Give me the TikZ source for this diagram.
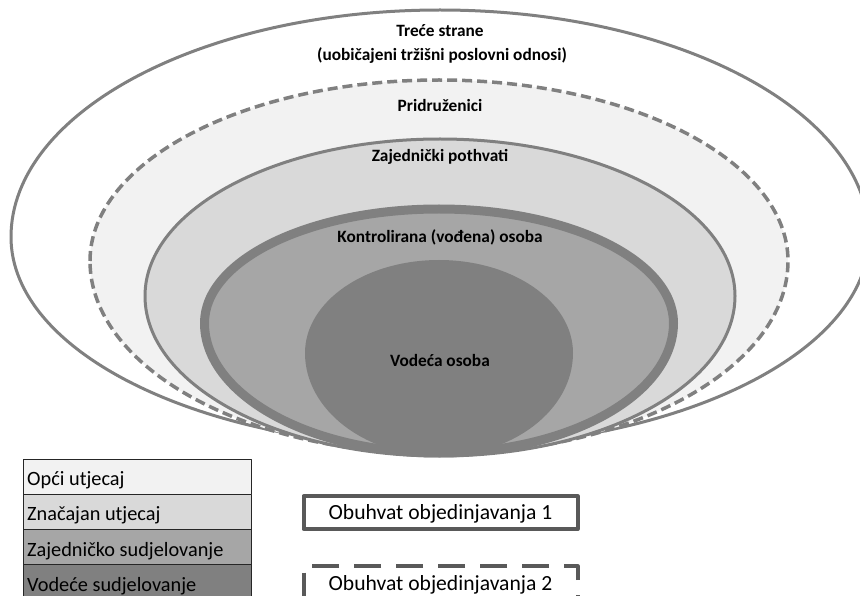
\documentclass[tikz,border=0pt]{standalone}
\usepackage{fontspec}
\setmainfont{Carlito}
\definecolor{ringc}{HTML}{808080}
\definecolor{cA}{HTML}{F2F2F2}
\definecolor{cB}{HTML}{D9D9D9}
\definecolor{cC}{HTML}{A6A6A6}
\definecolor{cD}{HTML}{808080}
\definecolor{boxc}{HTML}{595959}
\begin{document}
\begin{tikzpicture}[x=1pt,y=-1pt,line join=round,
  lbl/.style={font=\fontsize{17.3}{20}\bfseries\selectfont, inner sep=0pt, anchor=base},
  cell/.style={draw=black!85, line width=1pt, anchor=north west, inner xsep=3.7pt, inner ysep=0pt,
    text width=220.6pt, align=flush left, minimum height=35.2pt, text height=18pt, text depth=0.3pt,
    font=\fontsize{20.3}{24}\selectfont},
  scopebox/.style={draw=boxc, line width=4pt, fill=white, minimum width=274pt, inner sep=0pt,
    text height=16pt, text depth=1.4pt, font=\fontsize{21.6}{24}\selectfont},
  ringline/.style={draw=ringc, line width=3pt}]
\useasboundingbox (0,0) rectangle (860,596);
\clip (0,0) rectangle (860,596);
% outer: third parties
\path[ringline, fill=white] (11,237) arc[start angle=180,end angle=360,x radius=429,y radius=227]
  arc[start angle=0,end angle=180,x radius=429,y radius=210] -- cycle;
% associates (dashed)
\path[ringline, line width=3.5pt, dash pattern=on 10pt off 5pt, fill=cA] (90,261) arc[start angle=180,end angle=360,x radius=349,y radius=181]
  arc[start angle=0,end angle=180,x radius=349,y radius=193] -- cycle;
% joint ventures
\path[ringline, fill=cB] (145,296) arc[start angle=180,end angle=360,x radius=295,y radius=157]
  arc[start angle=0,end angle=180,x radius=295,y radius=160] -- cycle;
% controlled entity
\path[ringline, line width=9pt, fill=cC] (204.5,323) arc[start angle=180,end angle=360,x radius=234.5,y radius=114]
  arc[start angle=0,end angle=180,x radius=234.5,y radius=130] -- cycle;
% leading entity
\path[fill=cD] (305,353) arc[start angle=180,end angle=360,x radius=134,y radius=93]
  arc[start angle=0,end angle=180,x radius=134,y radius=103] -- cycle;
% labels
\node[lbl] (t1) at (440,37) {Treće strane};
\node[lbl] (t2) at (442,61) {(uobičajeni tržišni poslovni odnosi)};
\node[lbl] (pr) at (440,111.7) {Pridruženici};
\node[lbl] (zp) at (440,162) {Zajednički pothvati};
\node[lbl] (ko) at (440,242.7) {Kontrolirana (vođena) osoba};
\node[lbl] (vo) at (440,366) {Vodeća osoba};
% legend table
\node[cell, fill=cA] (l1) at (23,458.7) {Opći utjecaj};
\node[cell, fill=cB] (l2) at (23,493.9) {Značajan utjecaj};
\node[cell, fill=cC] (l3) at (23,529.1) {Zajedničko sudjelovanje};
\node[cell, fill=cD] (l4) at (23,564.3) {Vodeće sudjelovanje};
% scope boxes
\node[scopebox, minimum height=32.7pt] (b1) at (440.5,512.65) {Obuhvat objedinjavanja 1};
\node[scopebox, minimum height=33.7pt, dash pattern=on 27pt off 15pt] (b2) at (440.5,583.15) {Obuhvat objedinjavanja 2};
\end{tikzpicture}
\end{document}
